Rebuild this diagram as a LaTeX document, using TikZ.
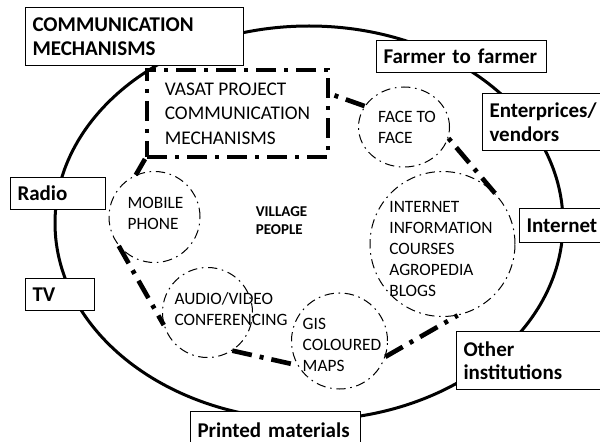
\documentclass[tikz,border=0pt]{standalone}
\usepackage{fontspec}
\setmainfont{Carlito}
\usetikzlibrary{shapes.geometric, positioning}
\tikzset{
  labbox/.style={draw, fill=white, line width=0.75pt, anchor=north west, align=left,
    inner xsep=5.25pt, inner ysep=0pt, font=\bfseries\fontsize{15.75}{17.6}\selectfont},
  bubble/.style={draw, circle, line width=0.75pt, inner sep=0pt,
    dash pattern=on 7pt off 3.5pt on 1.2pt off 3.5pt},
  bubbletext/.style={align=left, inner sep=0pt, font=\fontsize{13}{15.75}\selectfont},
  loopline/.style={line width=3.5pt, dash pattern=on 15pt off 6pt on 3pt off 6pt},
}
\begin{document}
\begin{tikzpicture}[x=0.75pt, y=-0.75pt]
\useasboundingbox (0,0) rectangle (600,442);
% outer boundary of the village
\draw[line width=2.25pt] (309,223) ellipse [x radius=190.5pt, y radius=147.75pt];
%
% the five channels, each a dash-dot circle
\node[bubble, minimum size=68.25pt] (mobile) at (154.5,217) {};
\node[bubble, minimum size=67.5pt] (audio) at (207.5,312.5) {};
\node[bubble, minimum size=72pt] (gis) at (339.5,341) {};
\node[bubble, minimum size=108.75pt] (internet) at (442.5,244) {};
\node[bubble, ellipse, minimum width=68.25pt, minimum height=60pt] (face) at (404,127) {};
\node[bubbletext] (mobiletxt) at (155.5,213) {MOBILE\\PHONE};
\node[bubbletext] (audiotxt) at (231,309) {AUDIO/VIDEO\\CONFERENCING};
\node[bubbletext] (gistxt) at (342,345) {GIS\\COLOURED\\MAPS};
\node[bubbletext] (internettxt) at (441,249) {INTERNET\\INFORMATION\\COURSES\\AGROPEDIA\\BLOGS};
\node[bubbletext] (facetxt) at (407,127) {FACE TO\\FACE};
\node[draw, line width=3pt, dash pattern=on 15pt off 6pt on 3pt off 6pt,
  minimum width=135.75pt, minimum height=65.25pt, align=left,
  font=\fontsize{14.5}{18.4}\selectfont] (vasat) at (237.5,113.5)
  {VASAT PROJECT\\COMMUNICATION\\MECHANISMS};
\node[font=\bfseries\fontsize{11.25}{13.5}\selectfont, align=left] (village) at (281.5,221) {VILLAGE\\PEOPLE};
%
% thick loop joining the channels
\draw[loopline] (vasat.south west) -- (mobile.114);
\draw[loopline] (mobile.219) -- (audio.196);
\draw[loopline] (audio.303) -- (gis.210);
\draw[loopline] (gis.341) -- (internet.282);
\draw[loopline] (internet.44) -- (face.346);
\draw[loopline] (face.152) -- (vasat.12);
%
% outside mechanisms, boxes listed top to bottom
\node[labbox, text width=153pt, minimum height=43.5pt] (comm) at (25,7) {COMMUNICATION\\MECHANISMS};
\node[labbox, text width=117pt, minimum height=24pt] (farmer) at (376,40) {Farmer to farmer};
\node[labbox, text width=79.5pt, minimum height=42.75pt] (vendors) at (482,93) {Enterprices/\\vendors};
\node[labbox, text width=60.75pt, minimum height=24pt] (radio) at (10,177) {Radio};
\node[labbox, text width=52.5pt, minimum height=25.5pt] (web) at (519,208) {Internet};
\node[labbox, text width=41.25pt, minimum height=24pt] (tv) at (25,278) {TV};
\node[labbox, text width=99pt, minimum height=43.5pt] (inst) at (456,331) {Other\\institutions};
\node[labbox, text width=117pt, minimum height=28.5pt] (print) at (190,411) {Printed materials};
\end{tikzpicture}
\end{document}
